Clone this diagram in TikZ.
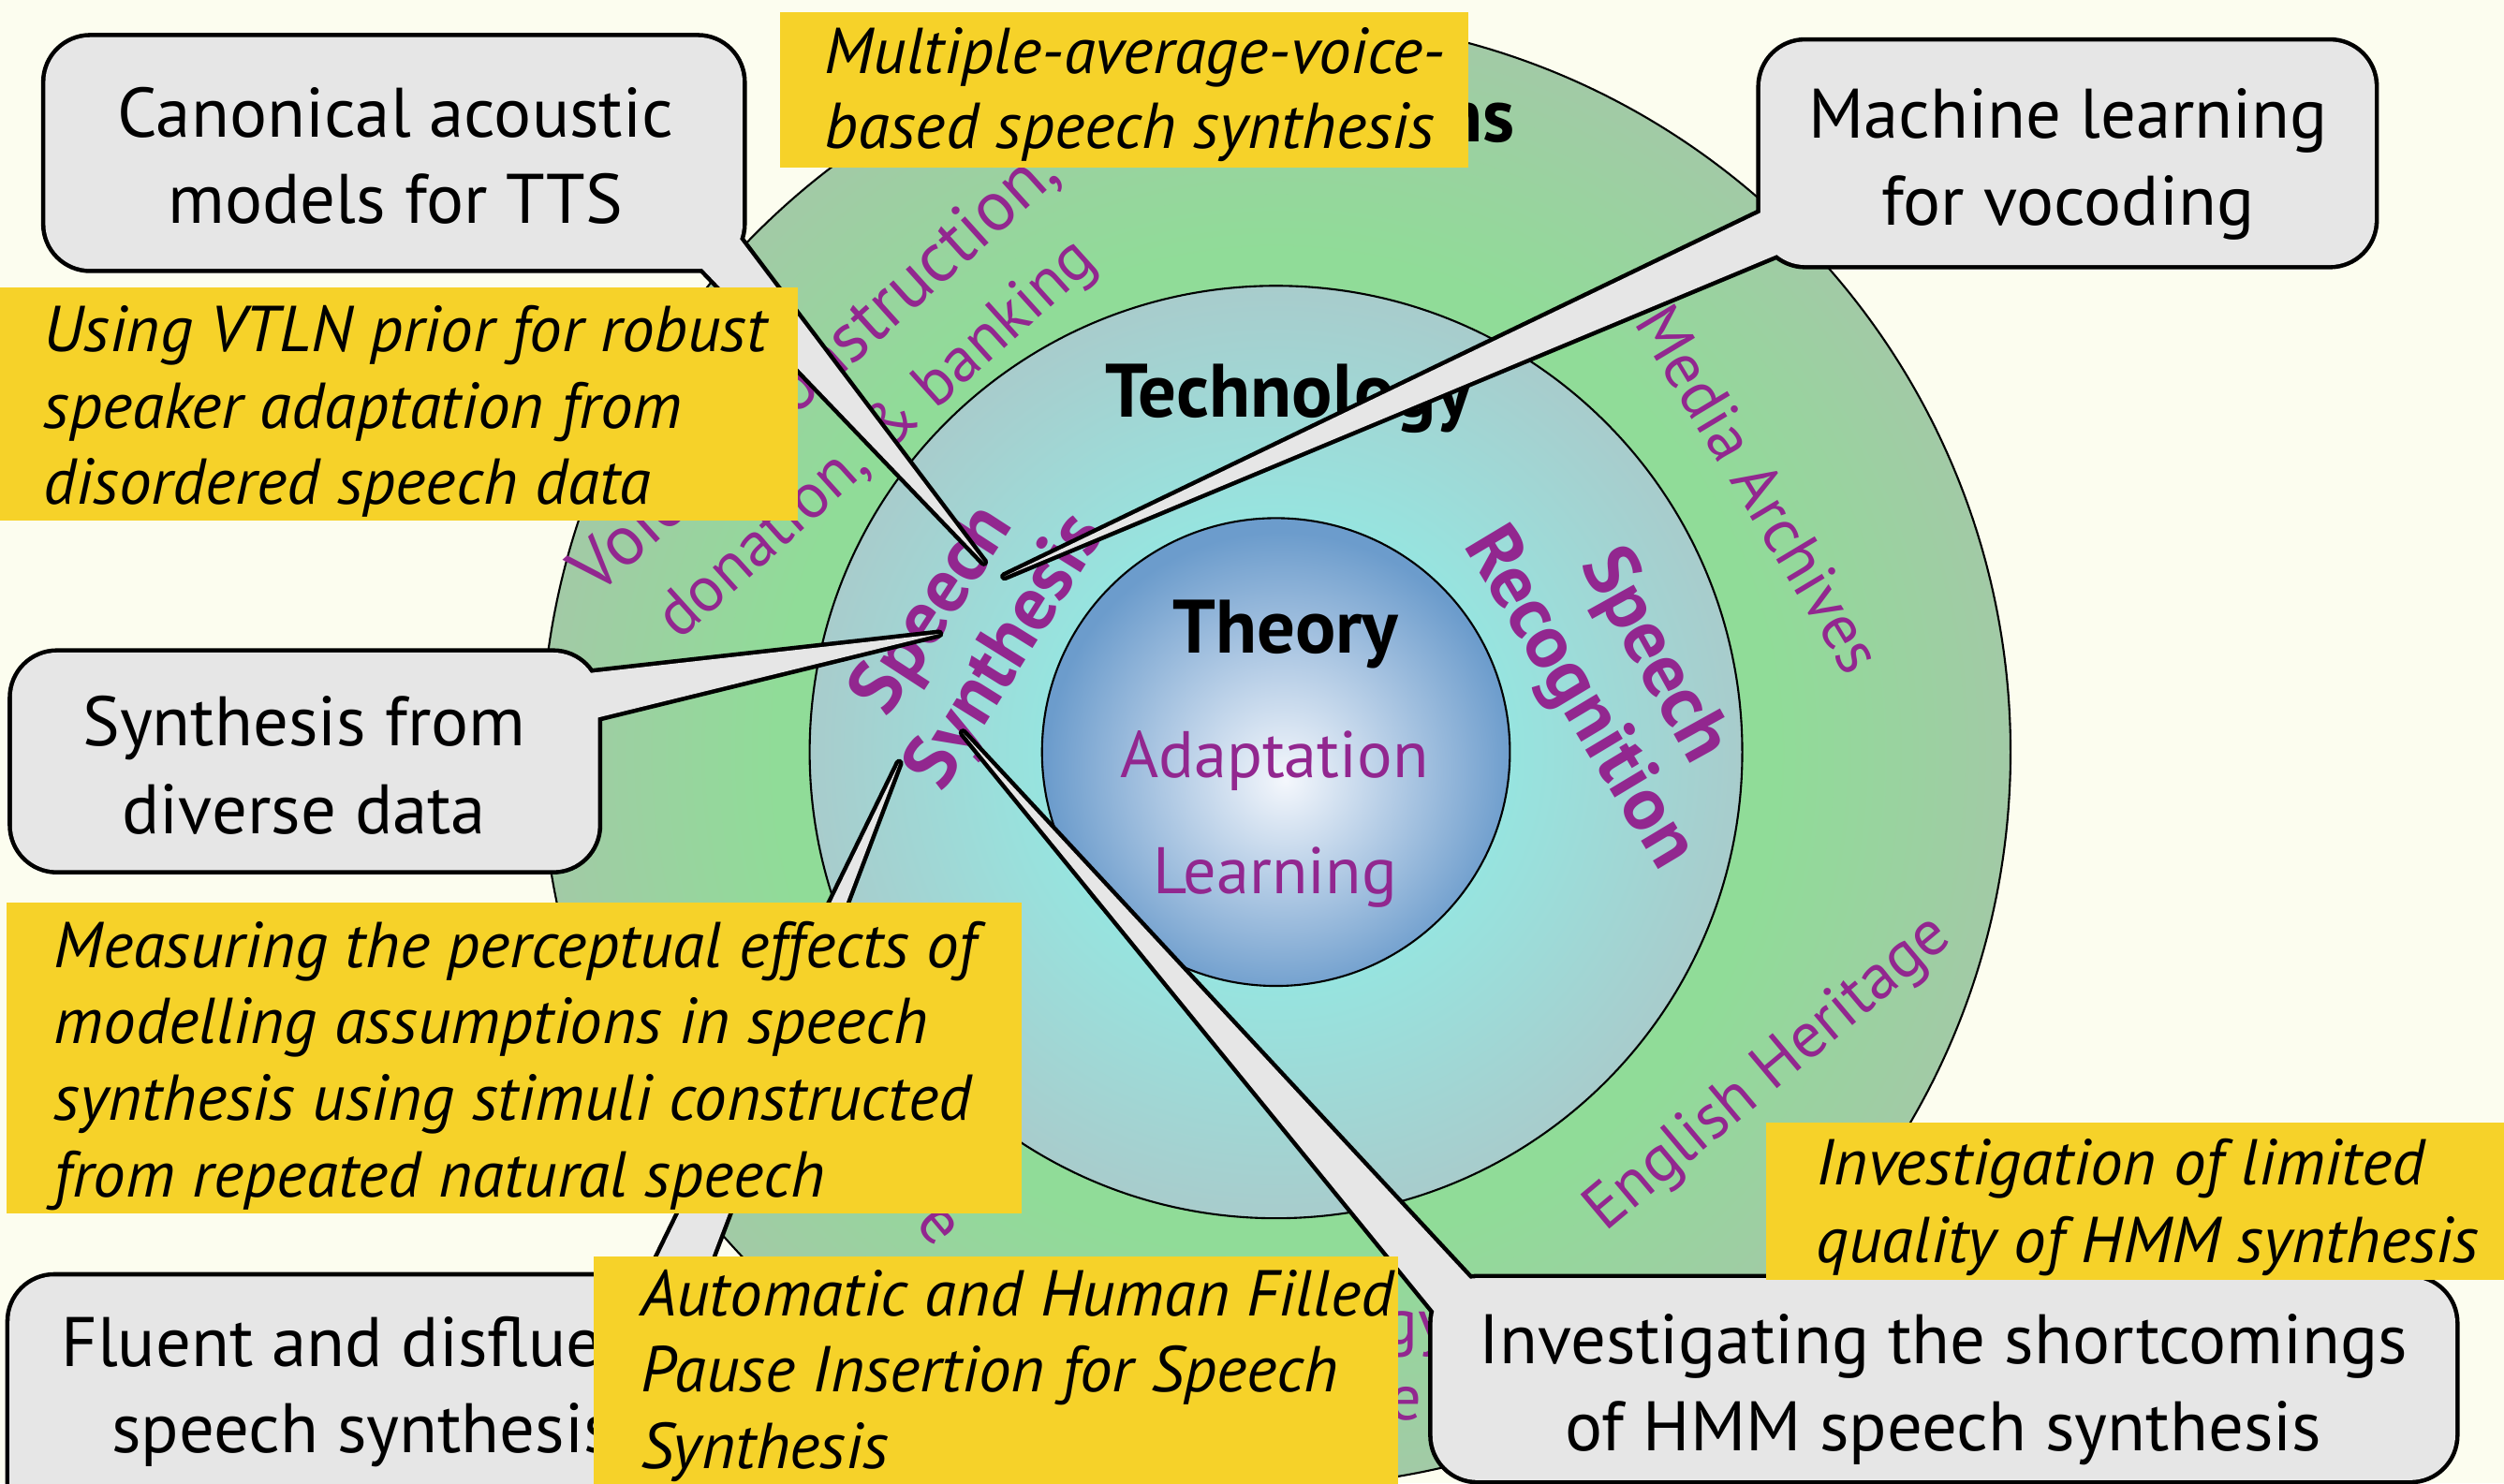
\documentclass[tikz,border=0pt]{standalone}
\usepackage{fontspec}
\setmainfont{PT Sans}
\setsansfont{PT Sans}
\definecolor{bgc}{HTML}{FCFDEF}
\definecolor{purp}{HTML}{92278F}
\definecolor{ybox}{HTML}{F6D229}
\definecolor{cgray}{HTML}{E6E6E6}
\definecolor{ringG}{HTML}{90DC98}
\definecolor{ringE}{HTML}{A2CAA6}
\definecolor{midC}{HTML}{96E5E0}
\definecolor{midE}{HTML}{A8CCCC}
\definecolor{innW}{HTML}{F4F7FC}
\definecolor{innB}{HTML}{6C9CCC}
\pgfdeclareradialshading{outershade}{\pgfpointorigin}{color(0bp)=(ringG); color(17bp)=(ringG); color(25bp)=(ringE); color(50bp)=(ringE)}
\pgfdeclareradialshading{midshade}{\pgfpointorigin}{color(0bp)=(midC); color(12bp)=(midC); color(25bp)=(midE); color(50bp)=(midE)}
\pgfdeclareradialshading{innershade}{\pgfpoint{1bp}{-3bp}}{color(0bp)=(innW); color(25bp)=(innB); color(50bp)=(innB)}
\tikzset{
  ctext/.style={font=\fontsize{21.3}{26}\selectfont, inner sep=0pt, anchor=base},
  ytext/.style={font=\fontsize{19.7}{23}\selectfont\itshape, inner sep=0pt, anchor=base west},
  rtext/.style={font=\fontsize{19.5}{28}\selectfont, text=purp, inner sep=0pt, align=center},
  btext/.style={font=\fontsize{23}{27}\selectfont\bfseries, inner sep=0pt, anchor=base},
  ptitle/.style={font=\fontsize{23}{27}\selectfont\bfseries, text=purp, inner sep=0pt},
  cstroke/.style={draw=black, line width=2.6pt, line join=round, rounded corners=0.48cm},
  cfill/.style={fill=cgray, rounded corners=0.48cm},
  ringline/.style={draw=black, line width=0.6pt},
  yfill/.style={fill=ybox}
}
\newcommand\mycallout[7]{%
  \draw[cstroke] (#1,#2) rectangle (#3,#4);
  \draw[cstroke, sharp corners] (#5) -- (#6) -- (#7) -- cycle;
  \fill[cfill] (#1,#2) rectangle (#3,#4);
  \fill[cfill, sharp corners] (#5) -- (#6) -- (#7) -- cycle;}
\begin{document}
\begin{tikzpicture}[x=0.017054cm, y=-0.017054cm]
\useasboundingbox (0,0) rectangle (1568,928.85);
\clip (0,0) rectangle (1568,928.85);
\fill[bgc] (0,0) rectangle (1568,928.85);
% circles
\coordinate (ctr) at (799,471);
\shade[shading=outershade, ringline] (ctr) circle (460);
\shade[shading=midshade, ringline] (ctr) circle (292);
\shade[shading=innershade, ringline] (ctr) circle (146.5);
% ring texts
\node[btext, anchor=base east] (appl) at (949,89) {Applications};
\node[rtext, rotate=42, font=\fontsize{21.5}{28}\selectfont] (voicea) at (511,233) {Voice reconstruction,};
\node[rtext, rotate=42] (voiceb) at (550,276) {donation, \& banking};
\node[rtext, rotate=-59] (media) at (1102,306) {Media Archives};
\node[rtext, rotate=40] (heritage) at (1108,673) {English Heritage};
\node[rtext, anchor=base east] (fraga) at (907,841.5) {gy};
\node[rtext, anchor=base east] (fragb) at (891,889) {e};
\node[rtext, rotate=-50] (fragc) at (587,768) {e};
\node[btext] (tech) at (807,261) {Technology};
\node[ptitle, rotate=57] (ssa) at (585,383) {Speech};
\node[ptitle, rotate=58] (ssb) at (631,409) {Synthesis};
\node[ptitle, rotate=-61] (sra) at (1035,411) {Speech};
\node[ptitle, rotate=-59] (srb) at (988,438) {Recognition};
\node[btext] (theory) at (805,409) {Theory};
\node[rtext, anchor=base, font=\fontsize{20}{24}\selectfont] (adapt) at (798,487) {Adaptation};
\node[rtext, anchor=base, font=\fontsize{20}{24}\selectfont] (learn) at (798.5,559.5) {Learning};
% callout tips
\coordinate (tipA) at (616,352);
\coordinate (tipB) at (629,361);
\coordinate (tipC) at (588,397);
\coordinate (tipD) at (563,478);
\coordinate (tipE) at (603,459);
% callouts
\mycallout{28.4}{23.3}{465}{168.4}{tipA}{460.5,146}{438,166.5}
\mycallout{1102.4}{26}{1487}{166}{tipB}{1105,132}{1114,159}
\mycallout{7.5}{408.7}{374.5}{545}{tipC}{365,422}{372,450}
\mycallout{6}{799.4}{448}{960}{tipD}{405,801.5}{438,808}
\mycallout{897}{800.5}{1537.5}{927}{tipE}{899.5,823}{922,802.5}
\node[ctext] (cana) at (247.6,86.1) {Canonical acoustic};
\node[ctext] (canb) at (247.6,140) {models for TTS};
\node[ctext] (mla) at (1295,86.5) {Machine learning};
\node[ctext] (mlb) at (1295,141) {for vocoding};
\node[ctext] (sfa) at (190.5,467) {Synthesis from};
\node[ctext] (sfb) at (190.5,522) {diverse data};
\node[ctext] (fla) at (227,856) {Fluent and disfluent};
\node[ctext] (flb) at (227,910) {speech synthesis};
\node[ctext] (isa) at (1217,854) {Investigating the shortcomings};
\node[ctext] (isb) at (1217,908.4) {of HMM speech synthesis};
% yellow boxes
\fill[yfill] (488.5,7.9) rectangle (919.5,104.7);
\node[ytext] (ya1) at (516,46) {Multiple-average-voice-};
\node[ytext] (ya2) at (516,93) {based speech synthesis};
\fill[yfill] (0,180) rectangle (499.7,326);
\node[ytext] (yb1) at (27,220) {Using VTLN prior for robust};
\node[ytext] (yb2) at (27,268) {speaker adaptation from};
\node[ytext] (yb3) at (27,316) {disordered speech data};
\fill[yfill] (4,565) rectangle (640,760);
\node[ytext] (yc1) at (33.5,605.9) {Measuring the perceptual effects of};
\node[ytext] (yc2) at (33.5,653.8) {modelling assumptions in speech};
\node[ytext] (yc3) at (33.5,701.7) {synthesis using stimuli constructed};
\node[ytext] (yc4) at (33.5,749.6) {from repeated natural speech};
\fill[yfill] (372,786.7) rectangle (875.5,935);
\node[ytext] (yd1) at (400.7,824) {Automatic and Human Filled};
\node[ytext] (yd2) at (400.7,871.8) {Pause Insertion for Speech};
\node[ytext] (yd3) at (400.7,919.7) {Synthesis};
\fill[yfill] (1106,703) rectangle (1570,801.6);
\node[ytext] (ye1) at (1137,742.2) {Investigation of limited};
\node[ytext] (ye2) at (1137,790.9) {quality of HMM synthesis};
\end{tikzpicture}
\end{document}
